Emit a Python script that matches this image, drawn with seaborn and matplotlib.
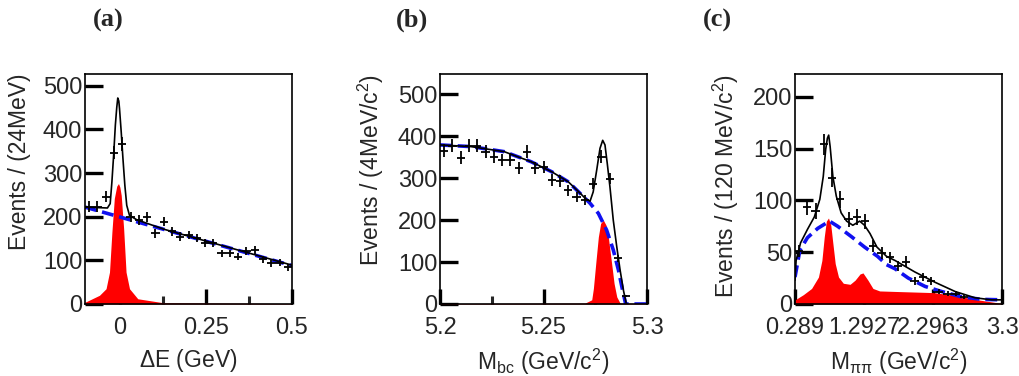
import numpy as np
import matplotlib
matplotlib.use("Agg")
import matplotlib.pyplot as plt
import seaborn as sns

# ---------------- Panel (a): Delta E ----------------
a_bin_centers = [-0.088, -0.064, -0.040, -0.016, 0.008, 0.032, 0.056, 0.080, 0.104, 0.128,
                 0.152, 0.176, 0.200, 0.224, 0.248, 0.272, 0.296, 0.320, 0.344, 0.368,
                 0.392, 0.416, 0.440, 0.464, 0.488]
a_counts = [223, 223, 246, 347, 367, 200, 193, 199, 162, 189,
            167, 154, 158, 151, 139, 139, 116, 116, 108, 122,
            124, 103, 93, 95, 84]
a_half_bin = 0.012
a_total_x = [-0.100, -0.035, -0.027, -0.022, -0.017, -0.012, -0.008, -0.005, -0.002, 0.000,
             0.005, 0.010, 0.0155, 0.021, 0.029, 0.050, 0.130, 0.500]
a_total_y = [222, 220, 230, 280, 341, 410, 450, 472, 465, 448,
             394, 333, 272, 226, 203, 193, 171, 89]
a_bkg_x = [-0.100, 0.500]
a_bkg_y = [222, 88]
a_sig_x = [-0.100, -0.058, -0.039, -0.029, -0.022, -0.015, -0.008, -0.003, 0.001, 0.005,
           0.012, 0.019, 0.029, 0.053, 0.126, 0.500]
a_sig_y = [4, 20, 35, 73, 165, 242, 270, 276, 268, 249,
           173, 73, 35, 12, 3, 1]

# ---------------- Panel (b): M_bc ----------------
b_bin_centers = [5.202, 5.206, 5.210, 5.214, 5.218, 5.222, 5.226, 5.230, 5.234, 5.238,
                 5.242, 5.246, 5.250, 5.254, 5.258, 5.262, 5.266, 5.270, 5.274, 5.278,
                 5.282, 5.286, 5.290]
b_counts = [365, 377, 349, 377, 377, 363, 351, 343, 343, 323,
            363, 323, 327, 295, 293, 271, 255, 248, 287, 351,
            299, 109, 19]
b_half_bin = 0.002
b_bkg_x = [5.200, 5.215, 5.231, 5.244, 5.254, 5.262, 5.268, 5.2725, 5.2765, 5.2805,
           5.2837, 5.2862, 5.2882, 5.2897, 5.300]
b_bkg_y = [379, 375, 363, 339, 315, 291, 262, 240, 216, 176,
           129, 81, 33, 0, 0]
b_total_x = [5.200, 5.215, 5.231, 5.244, 5.254, 5.262, 5.2675, 5.2705, 5.2725, 5.274,
             5.2757, 5.2773, 5.2786, 5.2797, 5.2808, 5.2821, 5.2837, 5.2854, 5.2870, 5.2886,
             5.2899]
b_total_y = [379, 375, 363, 339, 315, 291, 265, 250, 245, 267,
             319, 371, 390, 379, 335, 279, 200, 136, 81, 33,
             3]
b_sig_x = [5.200, 5.270, 5.2733, 5.2741, 5.2754, 5.2765, 5.2776, 5.2789, 5.2802, 5.2813,
           5.2829, 5.2841, 5.2854, 5.2870, 5.300]
b_sig_y = [1, 2, 10, 37, 105, 160, 192, 200, 188, 160,
           97, 49, 17, 2, 1]

# ---------------- Panel (c): M_pipi ----------------
c_bin_centers = [0.349, 0.469, 0.589, 0.709, 0.829, 0.949, 1.069, 1.189, 1.309, 1.429,
                 1.549, 1.669, 1.789, 1.909, 2.029, 2.149, 2.269, 2.389, 2.509, 2.629,
                 2.749]
c_counts = [51, 94, 90, 154, 122, 101, 82, 84, 80, 56,
            49, 45, 37, 41, 22, 26, 22, 12, 10, 10,
            7]
c_half_bin = 0.06
c_total_x = [0.289, 0.305, 0.370, 0.470, 0.570, 0.650, 0.700, 0.735, 0.760, 0.779,
             0.800, 0.840, 0.890, 0.960, 1.040, 1.130, 1.230, 1.300, 1.380, 1.480,
             1.620, 1.744, 2.030, 2.325, 2.620, 2.907, 3.150, 3.300]
c_total_y = [23, 42, 59, 72, 84, 101, 123, 149, 160, 163,
             152, 123, 104, 88, 80, 76, 80, 76, 68, 55,
             46, 42, 31, 21, 12, 6, 4, 4]
c_bkg_x = [0.289, 0.360, 0.470, 0.620, 0.790, 0.910, 1.110, 1.300, 1.490, 1.620,
           1.744, 1.937, 2.180, 2.424, 2.710, 3.000, 3.300]
c_bkg_y = [26, 52, 64, 73, 80, 75, 65, 55, 46, 38,
           34, 25, 17, 12, 7, 4.5, 4]
c_sig_x = [0.289, 0.410, 0.530, 0.630, 0.680, 0.715, 0.745, 0.776, 0.810, 0.839,
           0.874, 0.922, 0.992, 1.090, 1.163, 1.235, 1.278, 1.350, 1.423, 1.520,
           1.800, 2.300, 2.600, 2.900, 3.200, 3.300]
c_sig_y = [4, 9, 15, 26, 42, 65, 80, 83, 76, 59,
           39, 26, 20, 19, 23, 29, 30, 23, 15, 12.6,
           12, 11, 8.5, 4.5, 1.5, 0.7]

# ---------------- Axis settings ----------------
a_xlim, a_ylim = (-0.1, 0.5), (0, 527)
b_xlim, b_ylim = (5.2, 5.3), (0, 548)
c_xlim, c_ylim = (0.289, 3.3), (0, 222)
a_xticks, a_xminor = [0, 0.25, 0.5], [0.125, 0.375]
a_xticklabels = ["0", "0.25", "0.5"]
b_xticks, b_xminor = [5.2, 5.25, 5.3], [5.225, 5.275]
b_xticklabels = ["5.2", "5.25", "5.3"]
c_xticks = [0.289, 1.2927, 2.2963, 3.3]
c_xticklabels = ["0.289", "1.2927", "2.2963", "3.3"]
a_yticks = [0, 100, 200, 300, 400, 500]
b_yticks = [0, 100, 200, 300, 400, 500]
c_yticks = [0, 50, 100, 150, 200]

titles = ["(a)", "(b)", "(c)"]
xlabels = [r"$\Delta$E (GeV)", r"M$_{\rm bc}$ (GeV/c$^{2}$)", r"M$_{\mathrm{\pi\pi}}$ (GeV/c$^{2}$)"]
ylabels = ["Events / (24MeV)", r"Events / (4MeV/c$^{2}$)", r"Events / (120 MeV/c$^{2}$)"]

sns.set_style("ticks")
plt.rcParams["font.family"] = ["Liberation Sans", "DejaVu Sans"]
plt.rcParams["mathtext.fontset"] = "custom"
plt.rcParams["mathtext.rm"] = "Liberation Sans"
plt.rcParams["mathtext.it"] = "Liberation Sans:italic"
plt.rcParams["mathtext.bf"] = "Liberation Sans:bold"

fig = plt.figure(figsize=(10.19, 3.76), dpi=100)
lefts = [85 / 1019, 440 / 1019, 795 / 1019]
W, H = 207 / 1019, 230 / 376
B = 1 - 304 / 376

panels = [
    (a_bin_centers, a_counts, a_half_bin, a_total_x, a_total_y, a_bkg_x, a_bkg_y, a_sig_x, a_sig_y,
     a_xlim, a_ylim, a_xticks, a_xticklabels, a_xminor, a_yticks),
    (b_bin_centers, b_counts, b_half_bin, b_total_x, b_total_y, b_bkg_x, b_bkg_y, b_sig_x, b_sig_y,
     b_xlim, b_ylim, b_xticks, b_xticklabels, b_xminor, b_yticks),
    (c_bin_centers, c_counts, c_half_bin, c_total_x, c_total_y, c_bkg_x, c_bkg_y, c_sig_x, c_sig_y,
     c_xlim, c_ylim, c_xticks, c_xticklabels, [], c_yticks),
]
title_x = [108 / 1019, 412 / 1019, 717 / 1019]

for i, (bx, cnt, hb, tx, ty, kx, ky, sx, sy, xl, yl, xt, xtl, xmin, yt) in enumerate(panels):
    ax = fig.add_axes([lefts[i], B, W, H])
    ax.fill_between(sx, 0, sy, color="#ff0000", linewidth=0, zorder=1)
    sns.lineplot(x=kx, y=ky, ax=ax, color="#1010f0", linewidth=2.6, sort=False,
                 linestyle=(0, (3.3, 1.6)), zorder=2, legend=False)
    sns.lineplot(x=tx, y=ty, ax=ax, color="black", linewidth=1.2, sort=False, zorder=3, legend=False)
    ax.errorbar(bx, cnt, xerr=hb, yerr=np.sqrt(np.array(cnt, dtype=float)) * 0.8,
                fmt="none", ecolor="black", elinewidth=1.3, capsize=0, zorder=4)
    ax.set_xlim(*xl)
    ax.set_ylim(*yl)
    ax.set_xticks(xt)
    ax.set_xticklabels(xtl)
    if xmin:
        ax.set_xticks(xmin, minor=True)
    ax.set_yticks(yt)
    ax.tick_params(axis="both", which="major", direction="in", labelsize=17,
                   width=2.4, color="black")
    ax.tick_params(axis="x", which="major", length=11, pad=9.5)
    ax.tick_params(axis="x", which="minor", direction="in", length=5.5, width=2.2)
    ax.tick_params(axis="y", which="major", length=13, pad=2)
    ax.tick_params(axis="y", which="minor", length=0)
    for sp in ax.spines.values():
        sp.set_linewidth(1.2)
        sp.set_color("black")
    ax.set_xlabel(xlabels[i], fontsize=16.5)
    ax.xaxis.set_label_coords(0.5, -0.185)
    ax.set_ylabel(ylabels[i], fontsize=16.5, loc="top")
    ax.yaxis.set_label_coords(-0.262, 1.0)
    fig.text(title_x[i], 1 - 20 / 376, titles[i], ha="center", va="center",
             fontsize=19, fontweight="bold", family=["Liberation Serif", "DejaVu Serif"])

fig.savefig("out.png", dpi=100)
